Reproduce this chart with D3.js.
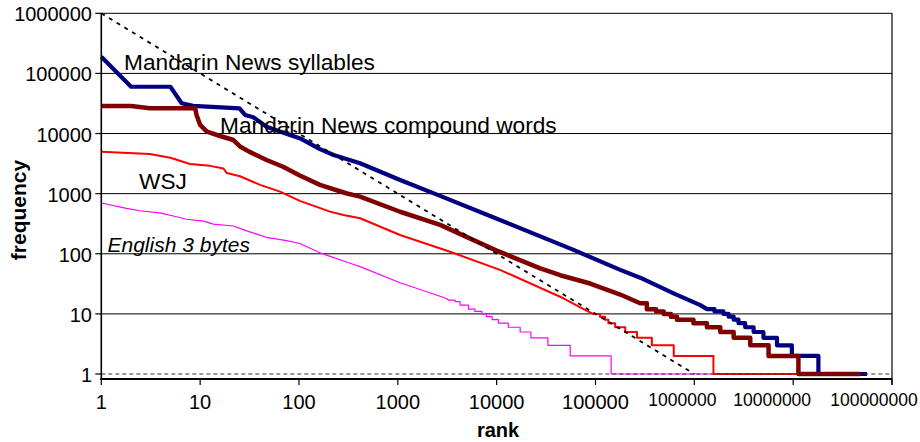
<!DOCTYPE html>
<html>
<head>
<meta charset="utf-8">
<script src="https://cdn.jsdelivr.net/npm/d3@7"></script>
<style>
  body { margin: 0; background: #ffffff; }
  svg { display: block; }
  text { font-family: "Liberation Sans", Arial, sans-serif; fill: #000; }
</style>
</head>
<body>
<svg id="chart" width="920" height="442"></svg>
<script>
// ---------------- data ----------------
const xTickValues = [1, 10, 100, 1000, 10000, 100000, 1000000, 10000000, 100000000];
const yTickValues = [1, 10, 100, 1000, 10000, 100000, 1000000];
const xTickLabels = ["1", "10", "100", "1000", "10000", "100000", "1000000", "10000000", "100000000"];
const yTickLabels = ["1", "10", "100", "1000", "10000", "100000", "1000000"];
const xAxisTitle = "rank";
const yAxisTitle = "frequency";
const seriesNames = ["Mandarin News syllables", "Mandarin News compound words", "WSJ", "English 3 bytes"];

// [rank, frequency] – smooth part
const syllablesCurve = [[1,190000],[2,60000],[5,60000],[6.5,31900],[8.5,28800],[25,26300],[28.5,20400],[34.5,18700],[47,13000],[64,10800],[103,8300],[163,5500],[224,4400],[415,3200],[1055,1690],[2680,920],[10800,365],[60000,116],[178000,54],[283000,40],[617000,22],[1150000,14]];
// [rank where level starts, frequency level] – staircase tail
const syllablesSteps = [[1340000,12],[1600000,11],[1970000,10],[2220000,9],[2500000,8],[2800000,7],[3270000,6],[3980000,5],[5000000,4],[6860000,3],[9700000,2],[18000000,1],[56000000,1]];

const compoundCurve = [[1,28800],[2,28800],[3.1,26300],[8.9,26300],[9.2,20400],[10,13900],[11.7,10800],[15.9,9100],[21.7,7800],[25.3,6100],[31.3,5000],[47,3630],[69,2800],[102,2000],[163,1400],[300,1015],[415,891],[1055,500],[2680,302],[10000,113],[27600,57],[44000,44],[88300,32],[178000,21]];
const compoundSteps = [[283000,15],[331000,12],[410000,11],[490000,10],[580000,9],[667000,8],[980000,7],[1340000,6],[1830000,5],[2500000,4],[3680000,3],[5640000,2],[11300000,1],[48000000,1]];

const wsjCurve = [[1,5000],[3.1,4580],[5,3950],[7.9,3110],[12.6,2900],[17.2,2620],[18.6,2200],[25.3,1950],[40.4,1400],[64.4,1080],[102,760],[206,502],[282,442],[415,390],[1055,205],[3380,108],[10800,54],[47400,18.2],[81800,11.2]];
const wsjSteps = [[95000,10],[111000,9],[125000,8],[135000,7],[158000,6],[200000,5],[263000,4],[372000,3],[619000,2],[1560000,1],[11000000,1]];

const english3Curve = [[1,700],[1.8,570],[2.46,520],[3.9,480],[5.35,425],[7.3,375],[10.8,350],[13.6,312],[21.7,290],[29.6,240],[47,188],[75,165],[102,148],[163,104],[190,95],[329,69.5],[415,61],[1055,33],[3130,18]];
const english3Steps = [[3250,17],[3800,16],[4270,14],[5190,12],[6030,11],[7080,10],[7900,9],[9000,8],[10400,7],[13100,6],[17300,5],[22200,4],[33000,3],[55500,2],[144000,1],[1500000,1]];

const zipfLine = [[1,1000000],[1000000,1]];
const unitLine = [[1,1],[100000000,1]];

// ---------------- layout ----------------
const svg = d3.select("#chart");
const plotL = 101.3, plotR = 892, plotT = 13.3, plotB = 379;
const x = d3.scaleLog().domain([1, 1e8]).range([plotL, plotR]);
const y = d3.scaleLog().domain([0.826, 1e6]).range([plotB, plotT]);

// horizontal gridlines
svg.append("g").selectAll("line")
  .data(yTickValues.filter(v => v > 1))
  .join("line")
  .attr("x1", plotL).attr("x2", plotR)
  .attr("y1", d => y(d)).attr("y2", d => y(d))
  .attr("stroke", "#000").attr("stroke-width", 1);

// right border
svg.append("line").attr("x1", plotR).attr("x2", plotR).attr("y1", plotT).attr("y2", plotB + 6)
  .attr("stroke", "#000").attr("stroke-width", 1.2);

// series
function expand(curve, steps) {
  const pts = curve.slice();
  steps.forEach((s, i) => {
    pts.push([s[0], s[1]]);
    if (i < steps.length - 1) pts.push([steps[i + 1][0], s[1]]);
  });
  return pts;
}
const line = d3.line().x(d => x(d[0])).y(d => y(d[1]));
const series = [
  { pts: expand(syllablesCurve, syllablesSteps), color: "#000080", w: 4.2 },
  { pts: expand(compoundCurve, compoundSteps), color: "#800000", w: 4.5 },
  { pts: expand(wsjCurve, wsjSteps), color: "#ff0000", w: 2 },
  { pts: expand(english3Curve, english3Steps), color: "#ff00ff", w: 1.2 }
];
svg.append("g").selectAll("path").data(series).join("path")
  .attr("d", d => line(d.pts))
  .attr("fill", "none")
  .attr("stroke", d => d.color)
  .attr("stroke-width", d => d.w)
  .attr("stroke-linejoin", "round");

// reference lines
svg.append("path").attr("d", line(unitLine)).attr("fill", "none")
  .attr("stroke", "#333").attr("stroke-width", 1).attr("stroke-dasharray", "4,3");
svg.append("path").attr("d", line(zipfLine)).attr("fill", "none")
  .attr("stroke", "#000").attr("stroke-width", 1.8).attr("stroke-dasharray", "4,5");

// axes
const yAxis = svg.append("g");
yAxis.append("line").attr("x1", plotL).attr("x2", plotL).attr("y1", plotT).attr("y2", plotB + 1)
  .attr("stroke", "#000").attr("stroke-width", 1.6);
yAxis.selectAll("line.tick").data(yTickValues).join("line").attr("class", "tick")
  .attr("x1", plotL - 6).attr("x2", plotL).attr("y1", d => y(d)).attr("y2", d => y(d))
  .attr("stroke", "#000").attr("stroke-width", 1.2);
yAxis.selectAll("text").data(yTickValues).join("text")
  .attr("x", 92).attr("y", d => y(d) + 8)
  .attr("text-anchor", "end").attr("font-size", 20)
  .text((d, i) => yTickLabels[i]);

const xAxis = svg.append("g");
xAxis.append("line").attr("x1", plotL - 1).attr("x2", plotR).attr("y1", plotB).attr("y2", plotB)
  .attr("stroke", "#000").attr("stroke-width", 2);
xAxis.selectAll("line.tick").data(xTickValues).join("line").attr("class", "tick")
  .attr("x1", d => x(d)).attr("x2", d => x(d)).attr("y1", plotB).attr("y2", plotB + 6)
  .attr("stroke", "#000").attr("stroke-width", 1.2);
const bigShift = [-12, -21, -18];
xAxis.selectAll("text").data(xTickValues).join("text")
  .attr("x", (d, i) => x(d) + (i >= 6 ? bigShift[i - 6] : 0))
  .attr("y", (d, i) => i >= 6 ? 406 : 409)
  .attr("text-anchor", "middle")
  .attr("font-size", (d, i) => i >= 6 ? 17.5 : 20)
  .text((d, i) => xTickLabels[i]);

// axis titles
svg.append("text").attr("x", 498).attr("y", 437).attr("text-anchor", "middle")
  .attr("font-size", 20).attr("font-weight", "bold").text(xAxisTitle);
svg.append("text").attr("transform", "translate(26,210) rotate(-90)").attr("text-anchor", "middle")
  .attr("font-size", 21).attr("font-weight", "bold").text(yAxisTitle);

// series labels
const labelPos = [
  { x: 124, y: 70, size: 22.7, italic: false },
  { x: 220, y: 133, size: 22.7, italic: false },
  { x: 139, y: 189, size: 22.7, italic: false },
  { x: 107.5, y: 252, size: 21, italic: true }
];
svg.append("g").selectAll("text").data(seriesNames).join("text")
  .attr("x", (d, i) => labelPos[i].x).attr("y", (d, i) => labelPos[i].y)
  .attr("font-size", (d, i) => labelPos[i].size)
  .attr("font-style", (d, i) => labelPos[i].italic ? "italic" : "normal")
  .text(d => d);
</script>
</body>
</html>
